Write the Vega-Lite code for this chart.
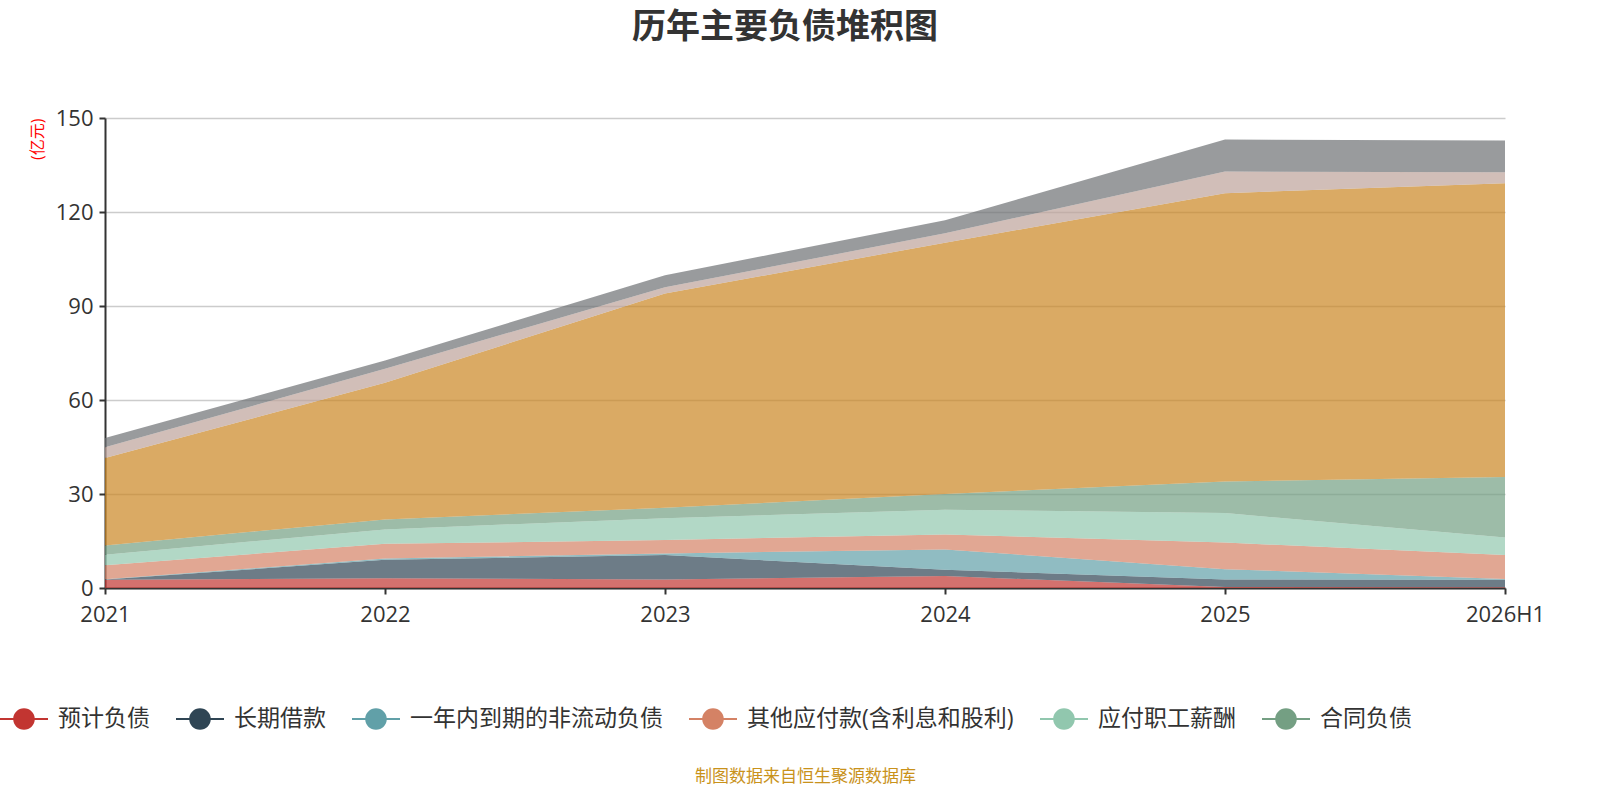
{
  "$schema": "https://vega.github.io/schema/vega-lite/v6.json",
  "autosize": {"type": "none"},
  "width": 1400,
  "height": 470,
  "padding": {"left": 105, "top": 118, "right": 95, "bottom": 212},
  "background": "white",
  "config": {
    "font": "Open Sans, Noto Sans CJK SC",
    "view": {"stroke": null}
  },
  "title": {
    "text": "历年主要负债堆积图",
    "fontSize": 34,
    "fontWeight": "bold",
    "color": "#333333",
    "anchor": "middle",
    "dx": -20,
    "offset": 62
  },
  "data": {
    "values": [
      {"year": "2021", "series": "预计负债", "k": 1, "value": 2.6},
      {"year": "2022", "series": "预计负债", "k": 1, "value": 3.1},
      {"year": "2023", "series": "预计负债", "k": 1, "value": 2.7},
      {"year": "2024", "series": "预计负债", "k": 1, "value": 3.8},
      {"year": "2025", "series": "预计负债", "k": 1, "value": 0.3},
      {"year": "2026H1", "series": "预计负债", "k": 1, "value": 0.2},
      {"year": "2021", "series": "长期借款", "k": 2, "value": 0.1},
      {"year": "2022", "series": "长期借款", "k": 2, "value": 5.9},
      {"year": "2023", "series": "长期借款", "k": 2, "value": 7.8},
      {"year": "2024", "series": "长期借款", "k": 2, "value": 2.0},
      {"year": "2025", "series": "长期借款", "k": 2, "value": 2.4},
      {"year": "2026H1", "series": "长期借款", "k": 2, "value": 2.4},
      {"year": "2021", "series": "一年内到期的非流动负债", "k": 3, "value": 0.1},
      {"year": "2022", "series": "一年内到期的非流动负债", "k": 3, "value": 0.4},
      {"year": "2023", "series": "一年内到期的非流动负债", "k": 3, "value": 0.5},
      {"year": "2024", "series": "一年内到期的非流动负债", "k": 3, "value": 6.5},
      {"year": "2025", "series": "一年内到期的非流动负债", "k": 3, "value": 3.3},
      {"year": "2026H1", "series": "一年内到期的非流动负债", "k": 3, "value": 0.3},
      {"year": "2021", "series": "其他应付款(含利息和股利)", "k": 4, "value": 4.5},
      {"year": "2022", "series": "其他应付款(含利息和股利)", "k": 4, "value": 4.7},
      {"year": "2023", "series": "其他应付款(含利息和股利)", "k": 4, "value": 4.3},
      {"year": "2024", "series": "其他应付款(含利息和股利)", "k": 4, "value": 4.8},
      {"year": "2025", "series": "其他应付款(含利息和股利)", "k": 4, "value": 8.5},
      {"year": "2026H1", "series": "其他应付款(含利息和股利)", "k": 4, "value": 7.6},
      {"year": "2021", "series": "应付职工薪酬", "k": 5, "value": 3.3},
      {"year": "2022", "series": "应付职工薪酬", "k": 5, "value": 4.6},
      {"year": "2023", "series": "应付职工薪酬", "k": 5, "value": 7.0},
      {"year": "2024", "series": "应付职工薪酬", "k": 5, "value": 7.9},
      {"year": "2025", "series": "应付职工薪酬", "k": 5, "value": 9.4},
      {"year": "2026H1", "series": "应付职工薪酬", "k": 5, "value": 5.6},
      {"year": "2021", "series": "合同负债", "k": 6, "value": 3.0},
      {"year": "2022", "series": "合同负债", "k": 6, "value": 3.2},
      {"year": "2023", "series": "合同负债", "k": 6, "value": 3.3},
      {"year": "2024", "series": "合同负债", "k": 6, "value": 5.0},
      {"year": "2025", "series": "合同负债", "k": 6, "value": 10.1},
      {"year": "2026H1", "series": "合同负债", "k": 6, "value": 19.3},
      {"year": "2021", "series": "应付账款", "k": 7, "value": 27.9},
      {"year": "2022", "series": "应付账款", "k": 7, "value": 43.6},
      {"year": "2023", "series": "应付账款", "k": 7, "value": 68.4},
      {"year": "2024", "series": "应付账款", "k": 7, "value": 80.2},
      {"year": "2025", "series": "应付账款", "k": 7, "value": 92.0},
      {"year": "2026H1", "series": "应付账款", "k": 7, "value": 93.8},
      {"year": "2021", "series": "应交税费", "k": 8, "value": 3.4},
      {"year": "2022", "series": "应交税费", "k": 8, "value": 4.5},
      {"year": "2023", "series": "应交税费", "k": 8, "value": 2.0},
      {"year": "2024", "series": "应交税费", "k": 8, "value": 3.0},
      {"year": "2025", "series": "应交税费", "k": 8, "value": 6.9},
      {"year": "2026H1", "series": "应交税费", "k": 8, "value": 3.5},
      {"year": "2021", "series": "应付票据", "k": 9, "value": 3.0},
      {"year": "2022", "series": "应付票据", "k": 9, "value": 2.6},
      {"year": "2023", "series": "应付票据", "k": 9, "value": 3.8},
      {"year": "2024", "series": "应付票据", "k": 9, "value": 4.2},
      {"year": "2025", "series": "应付票据", "k": 9, "value": 10.2},
      {"year": "2026H1", "series": "应付票据", "k": 9, "value": 10.1}
    ]
  },
  "mark": {"type": "area", "opacity": 0.7, "interpolate": "linear"},
  "encoding": {
    "x": {
      "field": "year",
      "type": "ordinal",
      "scale": {"type": "point", "padding": 0},
      "axis": {
        "title": "制图数据来自恒生聚源数据库",
        "titleColor": "#c9921b",
        "titleFontSize": 17,
        "titleFontWeight": "normal",
        "titlePadding": 143,
        "labelAngle": 0,
        "labelFontSize": 22,
        "labelColor": "#333333",
        "labelPadding": 10,
        "domainColor": "#333333",
        "domainWidth": 2,
        "tickColor": "#333333",
        "tickWidth": 2,
        "tickSize": 6,
        "grid": false
      }
    },
    "y": {
      "field": "value",
      "type": "quantitative",
      "stack": "zero",
      "scale": {"domain": [0, 150], "nice": false},
      "axis": {
        "title": "(亿元)",
        "titleColor": "red",
        "titleFontSize": 16,
        "titleFontWeight": "normal",
        "titleAnchor": "end",
        "titlePadding": 10,
        "values": [0, 30, 60, 90, 120, 150],
        "labelFontSize": 22,
        "labelColor": "#333333",
        "labelPadding": 6,
        "domainColor": "#333333",
        "domainWidth": 2,
        "tickColor": "#333333",
        "tickWidth": 2,
        "tickSize": 6,
        "gridColor": "#cccccc",
        "gridWidth": 1.5
      }
    },
    "color": {
      "field": "series",
      "type": "nominal",
      "scale": {
        "domain": ["预计负债", "长期借款", "一年内到期的非流动负债", "其他应付款(含利息和股利)", "应付职工薪酬", "合同负债", "应付账款", "应交税费", "应付票据"],
        "range": ["#c23531", "#2f4554", "#61a0a8", "#d48265", "#91c7ae", "#749f83", "#ca8622", "#bda29a", "#6e7074"]
      },
      "legend": {
        "title": null,
        "orient": "none",
        "legendX": -105,
        "legendY": 577,
        "direction": "horizontal",
        "columns": 6,
        "values": ["预计负债", "长期借款", "一年内到期的非流动负债", "其他应付款(含利息和股利)", "应付职工薪酬", "合同负债"],
        "symbolType": "M-1,-0.045H1V0.045H-1Z M0.45,0A0.45,0.45 0 1,1 -0.45,0A0.45,0.45 0 1,1 0.45,0Z",
        "symbolSize": 2304,
        "symbolOpacity": 1,
        "symbolStrokeWidth": 0,
        "labelFontSize": 23,
        "labelColor": "#333333",
        "labelOffset": 10,
        "labelLimit": 400,
        "columnPadding": 26
      }
    },
    "order": {"field": "k", "type": "quantitative"}
  }
}
